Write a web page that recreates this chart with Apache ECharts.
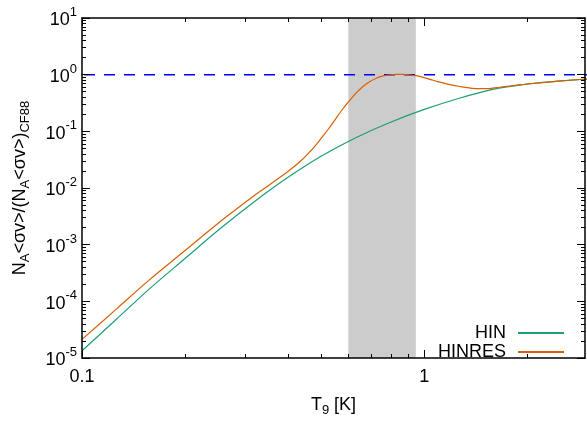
<!DOCTYPE html>
<html>
<head>
<meta charset="utf-8">
<script src="https://cdn.jsdelivr.net/npm/echarts@6/dist/echarts.min.js"></script>
<style>
html,body{margin:0;padding:0;background:#fff;}
#chart{width:587px;height:422px;}
</style>
</head>
<body>
<div id="chart"></div>
<script>
// ---- data ----
const hinT = [0.1, 0.126, 0.158, 0.2, 0.251, 0.316, 0.398, 0.501, 0.631, 0.794, 1.0, 1.259, 1.585, 1.995, 2.512, 3.0];
const hinR = [1.34e-5, 4.82e-5, 1.69e-4, 5.70e-4, 1.83e-3, 5.51e-3, 0.01513, 0.0367, 0.0771, 0.1435, 0.244, 0.380, 0.55, 0.68, 0.778, 0.838];

const hinresT = [0.1, 0.126, 0.158, 0.2, 0.251, 0.282, 0.316, 0.355, 0.38, 0.398, 0.417, 0.437, 0.457, 0.479, 0.501, 0.525, 0.55, 0.575, 0.603, 0.631, 0.661, 0.692, 0.724, 0.759, 0.794, 0.832, 0.871, 0.912, 0.955, 1.0, 1.047, 1.096, 1.148, 1.202, 1.259, 1.318, 1.38, 1.445, 1.514, 1.585, 1.66, 1.738, 1.82, 1.995, 2.512, 3.0];
const hinresR = [2.13e-5, 7.3e-5, 2.44e-4, 7.87e-4, 2.44e-3, 4.2e-3, 7.1e-3, 0.0116, 0.0156, 0.0192, 0.0239, 0.0305, 0.0401, 0.0543, 0.0764, 0.110, 0.163, 0.238, 0.341, 0.468, 0.610, 0.750, 0.867, 0.951, 0.995, 1.012, 1.009, 0.982, 0.95, 0.887, 0.817, 0.755, 0.703, 0.659, 0.624, 0.596, 0.575, 0.565, 0.565, 0.578, 0.60, 0.621, 0.64, 0.685, 0.78, 0.84];

const refT = [0.1, 3.0];
const refR = [1, 1];
const bandRange = [0.6, 0.945];

const xRange = [0.1, 2.95];
const yRange = [1e-5, 10];
const xMajorTicks = [0.1, 1];
const xMinorTicks = [0.2, 0.3, 0.4, 0.5, 0.6, 0.7, 0.8, 0.9, 2];
const yMajorTicks = [1e-5, 1e-4, 1e-3, 1e-2, 1e-1, 1, 10];
const yMinorTicks = [];
[1e-5, 1e-4, 1e-3, 1e-2, 1e-1, 1].forEach(function (d) {
  [2, 3, 4, 5, 6, 7, 8, 9].forEach(function (m) { yMinorTicks.push(+(m * d).toPrecision(3)); });
});

const seriesNames = ['HIN', 'HINRES'];
const seriesColors = ['#1b9e77', '#d95f02'];

// ---- chart ----
const FONT = 'Liberation Sans, Arial, Helvetica, sans-serif';
const zip = (a, b) => a.map((v, i) => [v, b[i]]);

function xAxisDef(pos, ticks, len, showLabel, showLine, extra) {
  return Object.assign({
    type: 'log', logBase: 10, position: pos, min: xRange[0], max: xRange[1], z: 10,
    axisLine: { show: showLine, lineStyle: { color: '#000', width: 1.5 } },
    axisTick: { show: true, inside: true, length: len, customValues: ticks, lineStyle: { color: '#000', width: 1 } },
    axisLabel: showLabel ? {
      show: true, customValues: ticks, margin: 10, color: '#000', fontSize: 18, fontFamily: FONT,
      formatter: function (v) { return String(+v.toPrecision(3)); }
    } : { show: false },
    splitLine: { show: false }, minorTick: { show: false }
  }, extra || {});
}
function yAxisDef(pos, ticks, len, showLabel, showLine, extra) {
  return Object.assign({
    type: 'log', logBase: 10, position: pos, min: yRange[0], max: yRange[1], z: 10,
    axisLine: { show: showLine, lineStyle: { color: '#000', width: 1.5 } },
    axisTick: { show: true, inside: true, length: len, customValues: ticks, lineStyle: { color: '#000', width: 1 } },
    axisLabel: showLabel ? {
      show: true, customValues: ticks, margin: 5, color: '#000', fontFamily: FONT,
      formatter: function (v) { const e = Math.round(Math.log10(v)); return '{b|10}{s|' + e + '}'; },
      rich: {
        b: { fontSize: 18, fontFamily: FONT, color: '#000', padding: [5, 0, 0, 0] },
        s: { fontSize: 13, fontFamily: FONT, color: '#000', padding: [0, 0, 11, 0] }
      }
    } : { show: false },
    splitLine: { show: false }, minorTick: { show: false }
  }, extra || {});
}

const chart = echarts.init(document.getElementById('chart'), null, { renderer: 'canvas' });
chart.setOption({
  animation: false,
  backgroundColor: '#fff',
  textStyle: { fontFamily: FONT },
  grid: { left: 82, right: 2, top: 18, bottom: 61, containLabel: false },
  xAxis: [
    xAxisDef('bottom', xMajorTicks, 8, true, true, {
      name: 'T{sub|9} [K]', nameLocation: 'middle', nameGap: 36,
      nameTextStyle: { fontSize: 18, color: '#000', fontFamily: FONT,
        rich: { sub: { fontSize: 13, fontFamily: FONT, color: '#000', padding: [10, 0, 0, 0] } } }
    }),
    xAxisDef('bottom', xMinorTicks, 4, false, false),
    xAxisDef('top', xMajorTicks, 8, false, true),
    xAxisDef('top', xMinorTicks, 4, false, false)
  ],
  yAxis: [
    yAxisDef('left', yMajorTicks, 8, true, true, {
      name: 'N{sub|A}<σv>/(N{sub|A}<σv>){sub|CF88}', nameLocation: 'middle', nameGap: 50,
      nameTextStyle: { fontSize: 18, color: '#000', fontFamily: FONT,
        rich: { sub: { fontSize: 13, fontFamily: FONT, color: '#000', padding: [10, 0, 0, 0] } } }
    }),
    yAxisDef('left', yMinorTicks, 4, false, false),
    yAxisDef('right', yMajorTicks, 8, false, true),
    yAxisDef('right', yMinorTicks, 4, false, false)
  ],
  legend: {
    show: true, orient: 'vertical', align: 'right', right: 22, top: 324, padding: 0,
    itemWidth: 46, itemHeight: 18, itemGap: 1,
    itemStyle: { color: 'transparent', borderColor: 'transparent', borderWidth: 0, opacity: 0 },
    textStyle: { fontSize: 18, color: '#000', fontFamily: FONT, padding: [0, 7, 0, 0] },
    data: seriesNames
  },
  series: [
    {
      name: 'band', type: 'line', data: [], xAxisIndex: 0, yAxisIndex: 0, z: 1, silent: true,
      markArea: { silent: true, itemStyle: { color: '#cccccc', opacity: 1 },
        data: [[{ xAxis: bandRange[0] }, { xAxis: bandRange[1] }]] }
    },
    {
      name: 'ref', type: 'line', data: zip(refT, refR), xAxisIndex: 0, yAxisIndex: 0, z: 2,
      symbol: 'none', silent: true,
      lineStyle: { color: '#0000ff', width: 1.5, type: [11, 9], dashOffset: 18 }
    },
    {
      name: seriesNames[0], type: 'line', data: zip(hinT, hinR), xAxisIndex: 0, yAxisIndex: 0, z: 3,
      symbol: 'none', smooth: 0.3, color: seriesColors[0],
      lineStyle: { color: seriesColors[0], width: 1.2 }
    },
    {
      name: seriesNames[1], type: 'line', data: zip(hinresT, hinresR), xAxisIndex: 0, yAxisIndex: 0, z: 4,
      symbol: 'none', smooth: 0.35, color: seriesColors[1],
      lineStyle: { color: seriesColors[1], width: 1.2 }
    }
  ]
});
</script>
</body>
</html>
